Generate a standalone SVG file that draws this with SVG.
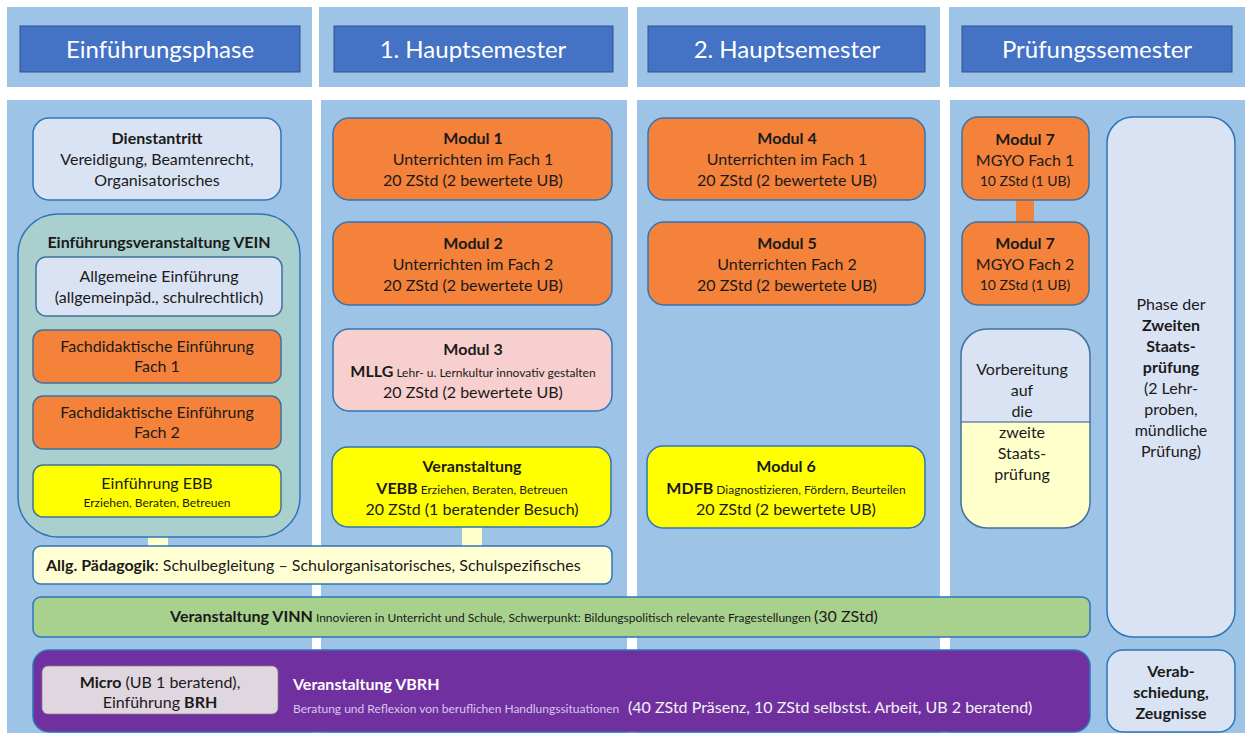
<svg xmlns="http://www.w3.org/2000/svg" width="1250" height="738" viewBox="0 0 1250 738">
<style>
.panel{fill:#9DC3E6}
.hdr{fill:#4472C4;stroke:#2F528F;stroke-width:1}
.hdrt{font-family:Lato,"Liberation Sans",sans-serif;font-size:24px;fill:#fff;text-anchor:middle}
.t{font-family:Lato,"Liberation Sans",sans-serif;font-size:16px;fill:#1a1a1a;text-anchor:middle}
.l{text-anchor:start}
.b{font-weight:bold}
.s{font-size:12px}
.box{stroke:#2E75B6;stroke-width:1.5}
.dk{stroke:#41719C;stroke-width:1.5}
.or{fill:#F4823A}
.ye{fill:#FFFF00}
.lb{fill:#DAE3F3}
.ly{fill:#FFFFCC}
</style>
<defs>
<clipPath id="vclip"><rect x="961" y="329" width="129" height="199" rx="26"/></clipPath>
</defs>
<rect width="1250" height="738" fill="#fff"/>
<g id="panels">
<rect class="panel" x="7" y="7" width="305" height="80"/>
<rect class="panel" x="319" y="7" width="309" height="80"/>
<rect class="panel" x="637" y="7" width="303" height="80"/>
<rect class="panel" x="949" y="7" width="296" height="80"/>
<rect class="panel" x="7" y="100" width="305" height="633"/>
<rect class="panel" x="321" y="100" width="306" height="633"/>
<rect class="panel" x="637" y="100" width="303" height="633"/>
<rect class="panel" x="950" y="100" width="295" height="633"/>
</g>
<g id="h1"><rect class="hdr" x="20" y="26" width="280" height="46"/><text class="hdrt" x="160" y="58">Einführungsphase</text></g>
<g id="h2"><rect class="hdr" x="334" y="26" width="279" height="46"/><text class="hdrt" x="473" y="58">1. Hauptsemester</text></g>
<g id="h3"><rect class="hdr" x="648" y="26" width="277" height="46"/><text class="hdrt" x="787" y="58">2. Hauptsemester</text></g>
<g id="h4"><rect class="hdr" x="962" y="26" width="270" height="46"/><text class="hdrt" x="1097" y="58">Prüfungssemester</text></g>

<g id="connectors">
<rect class="ly" x="148" y="516" width="20" height="31"/>
<rect class="ly" x="462" y="526" width="20" height="21"/>
<rect class="or" x="1016" y="199" width="18" height="24"/>
</g>

<g id="dienstantritt">
<rect class="box lb" x="33" y="118" width="248" height="82" rx="16"/>
<text class="t b" x="157" y="144">Dienstantritt</text>
<text class="t" x="157" y="165">Vereidigung, Beamtenrecht,</text>
<text class="t" x="157" y="186">Organisatorisches</text>
</g>
<g id="vein">
<rect class="box" x="18" y="214" width="282" height="323" rx="40" fill="#AACFCF"/>
<text class="t b" x="159" y="248">Einführungsveranstaltung VEIN</text>
</g>
<g id="allg-einf">
<rect class="dk lb" x="36" y="257" width="246" height="59" rx="10"/>
<text class="t" x="159" y="282">Allgemeine Einführung</text>
<text class="t" x="159" y="303">(allgemeinpäd., schulrechtlich)</text>
</g>
<g id="fach1">
<rect class="dk or" x="33" y="330" width="248" height="53" rx="10"/>
<text class="t" x="157" y="352">Fachdidaktische Einführung</text>
<text class="t" x="157" y="372">Fach 1</text>
</g>
<g id="fach2">
<rect class="dk or" x="33" y="396" width="248" height="53" rx="10"/>
<text class="t" x="157" y="418">Fachdidaktische Einführung</text>
<text class="t" x="157" y="438">Fach 2</text>
</g>
<g id="ebb">
<rect class="dk ye" x="33" y="465" width="248" height="52" rx="10"/>
<text class="t" x="157" y="489">Einführung EBB</text>
<text class="t s" x="157" y="507">Erziehen, Beraten, Betreuen</text>
</g>

<g id="modul1">
<rect class="box or" x="333" y="118" width="279" height="82" rx="16"/>
<text class="t b" x="473" y="144">Modul 1</text>
<text class="t" x="473" y="165">Unterrichten im Fach 1</text>
<text class="t" x="473" y="186">20 ZStd (2 bewertete UB)</text>
</g>
<g id="modul2">
<rect class="box or" x="333" y="222" width="279" height="83" rx="16"/>
<text class="t b" x="473" y="249">Modul 2</text>
<text class="t" x="473" y="270">Unterrichten im Fach 2</text>
<text class="t" x="473" y="291">20 ZStd (2 bewertete UB)</text>
</g>
<g id="modul3">
<rect class="box" x="333" y="329" width="279" height="82" rx="16" fill="#F8CFCF"/>
<text class="t b" x="473" y="355">Modul 3</text>
<text class="t" x="473" y="377"><tspan class="b">MLLG</tspan><tspan class="s"> Lehr- u. Lernkultur innovativ gestalten</tspan></text>
<text class="t" x="473" y="398">20 ZStd (2 bewertete UB)</text>
</g>
<g id="vebb">
<rect class="box ye" x="332" y="447" width="279" height="80" rx="16"/>
<text class="t b" x="472" y="472">Veranstaltung</text>
<text class="t" x="472" y="494"><tspan class="b">VEBB</tspan><tspan class="s"> Erziehen, Beraten, Betreuen</tspan></text>
<text class="t" x="472" y="515">20 ZStd (1 beratender Besuch)</text>
</g>

<g id="modul4">
<rect class="box or" x="648" y="118" width="277" height="82" rx="16"/>
<text class="t b" x="787" y="144">Modul 4</text>
<text class="t" x="787" y="165">Unterrichten im Fach 1</text>
<text class="t" x="787" y="186">20 ZStd (2 bewertete UB)</text>
</g>
<g id="modul5">
<rect class="box or" x="648" y="222" width="277" height="83" rx="16"/>
<text class="t b" x="787" y="249">Modul 5</text>
<text class="t" x="787" y="270">Unterrichten Fach 2</text>
<text class="t" x="787" y="291">20 ZStd (2 bewertete UB)</text>
</g>
<g id="modul6">
<rect class="box ye" x="647" y="446" width="278" height="82" rx="16"/>
<text class="t b" x="786" y="472">Modul 6</text>
<text class="t" x="786" y="494"><tspan class="b">MDFB</tspan><tspan class="s"> Diagnostizieren, Fördern, Beurteilen</tspan></text>
<text class="t" x="786" y="515">20 ZStd (2 bewertete UB)</text>
</g>

<g id="modul7a">
<rect class="dk or" x="962" y="117" width="127" height="83" rx="16"/>
<text class="t b" x="1025" y="145">Modul 7</text>
<text class="t" x="1025" y="166">MGYO Fach 1</text>
<text class="t" x="1025" y="186" style="font-size:14px">10 ZStd (1 UB)</text>
</g>
<g id="modul7b">
<rect class="dk or" x="962" y="222" width="127" height="83" rx="16"/>
<text class="t b" x="1025" y="249">Modul 7</text>
<text class="t" x="1025" y="270">MGYO Fach 2</text>
<text class="t" x="1025" y="290" style="font-size:14px">10 ZStd (1 UB)</text>
</g>
<g id="vorbereitung">
<g clip-path="url(#vclip)">
<rect class="lb" x="961" y="329" width="129" height="93"/>
<rect class="ly" x="961" y="422" width="129" height="106"/>
</g>
<line x1="961" y1="422" x2="1090" y2="422" stroke="#2F528F" stroke-width="1"/>
<rect x="961" y="329" width="129" height="199" rx="26" fill="none" class="dk"/>
<text class="t" x="1022" y="375">Vorbereitung</text>
<text class="t" x="1022" y="396">auf</text>
<text class="t" x="1022" y="417">die</text>
<text class="t" x="1022" y="438">zweite</text>
<text class="t" x="1022" y="459">Staats-</text>
<text class="t" x="1022" y="480">prüfung</text>
</g>
<g id="phase">
<rect class="box lb" x="1107" y="117" width="128" height="520" rx="26"/>
<text class="t" x="1171" y="310">Phase der</text>
<text class="t b" x="1171" y="331">Zweiten</text>
<text class="t b" x="1171" y="352">Staats-</text>
<text class="t b" x="1171" y="373">prüfung</text>
<text class="t" x="1171" y="394">(2 Lehr-</text>
<text class="t" x="1171" y="415">proben,</text>
<text class="t" x="1171" y="436">mündliche</text>
<text class="t" x="1171" y="457">Prüfung)</text>
</g>

<g id="allg-paed">
<rect class="box" x="33" y="546" width="579" height="38" rx="8" fill="#FFFFD3"/>
<text class="t l" x="46" y="571"><tspan class="b">Allg. Pädagogik</tspan>: Schulbegleitung – Schulorganisatorisches, Schulspezifisches</text>
</g>
<g id="vinn">
<rect class="box" x="33" y="597" width="1057" height="40" rx="8" fill="#A9D18E"/>
<text class="t" x="524" y="622"><tspan class="b">Veranstaltung VINN</tspan><tspan class="s"> Innovieren in Unterricht und Schule, Schwerpunkt: Bildungspolitisch relevante Fragestellungen </tspan><tspan>(30 ZStd)</tspan></text>
</g>
<g id="vbrh">
<rect class="box" x="33" y="650" width="1057" height="82" rx="16" fill="#7030A0"/>
<text class="t l b" x="293" y="690" style="fill:#fff">Veranstaltung VBRH</text>
<text class="t l" x="293" y="713"><tspan class="s" style="fill:#D9C6EA">Beratung und Reflexion von beruflichen Handlungssituationen</tspan><tspan x="628" style="fill:#F2F2F2">(40 ZStd Präsenz, 10 ZStd selbstst. Arbeit, UB 2 beratend)</tspan></text>
</g>
<g id="micro">
<rect x="42" y="666" width="236" height="48" rx="6" fill="#E0D6E0" stroke="#7F7F7F" stroke-width="1" stroke-dasharray="2 1"/>
<text class="t" x="160" y="688"><tspan class="b">Micro</tspan> (UB 1 beratend),</text>
<text class="t" x="160" y="708">Einführung <tspan class="b">BRH</tspan></text>
</g>
<g id="verabschiedung">
<rect class="box lb" x="1107" y="650" width="128" height="82" rx="16"/>
<text class="t b" x="1171" y="677">Verab-</text>
<text class="t b" x="1171" y="698">schiedung,</text>
<text class="t b" x="1171" y="719">Zeugnisse</text>
</g>
</svg>
